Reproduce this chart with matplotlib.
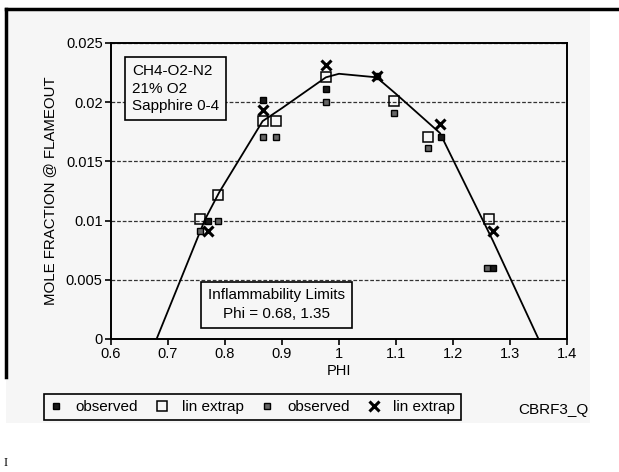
"""Flameout mole fraction vs equivalence ratio, CH4-O2-N2."""

import numpy as np
import matplotlib
matplotlib.use("Agg")
import matplotlib.pyplot as plt
from matplotlib.lines import Line2D
from matplotlib.patches import Rectangle

plt.rcParams["font.family"] = ["Liberation Sans", "DejaVu Sans"]

# data
obs_phi = [0.770, 0.866, 0.977, 1.066, 1.179, 1.270]
obs_x = [0.0100, 0.0202, 0.0211, 0.0222, 0.0171, 0.0060]

lin_phi = [0.757, 0.788, 0.866, 0.889, 0.977, 1.097, 1.157, 1.263]
lin_x = [0.0101, 0.0122, 0.0184, 0.0184, 0.0221, 0.0201, 0.0171, 0.0101]

obs2_phi = [0.757, 0.788, 0.866, 0.889, 0.977, 1.097, 1.157, 1.260]
obs2_x = [0.0091, 0.0100, 0.0171, 0.0171, 0.0200, 0.0191, 0.0161, 0.0060]

lin2_phi = [0.770, 0.866, 0.977, 1.066, 1.177, 1.270]
lin2_x = [0.0091, 0.0193, 0.0231, 0.0222, 0.0182, 0.0091]

fit_phi = [0.68, 0.765, 0.79, 0.866, 0.90, 0.977, 1.0, 1.066, 1.10, 1.177, 1.27, 1.35]
fit_x = [0.0, 0.0101, 0.0124, 0.0184, 0.0195, 0.0221, 0.0224, 0.0221, 0.0207, 0.0174, 0.0083, 0.0]

page = "#f6f6f6"
fig = plt.figure(figsize=(6.19, 4.72), dpi=100)
fig.patch.set_facecolor("white")
fig.add_artist(Rectangle((0.0097, 0.104), 0.944, 0.877, transform=fig.transFigure,
                         fc=page, ec="none", zorder=-10))

ax = fig.add_axes([0.1793, 0.2818, 0.7367, 0.6271])
ax.set_facecolor(page)

ax.plot(fit_phi, fit_x, color="black", lw=1.3, zorder=3)
ax.plot(obs_phi, obs_x, "s", ms=5, color="black", mfc="#1a1a1a", zorder=4, label="observed")
ax.plot(lin_phi, lin_x, "s", ms=7, color="black", mfc="none", mew=1.1, zorder=4, label="lin extrap")
ax.plot(obs2_phi, obs2_x, "s", ms=5, color="black", mfc="#666666", zorder=4, label="observed")
ax.plot(lin2_phi, lin2_x, "x", ms=7, color="black", mew=2.2, zorder=4, label="lin extrap")

ax.set_xlim(0.6, 1.4)
ax.set_ylim(0, 0.025)
ax.set_xticks(np.arange(0.6, 1.41, 0.1))
ax.set_xticklabels(["0.6", "0.7", "0.8", "0.9", "1", "1.1", "1.2", "1.3", "1.4"])
ax.set_yticks([0, 0.005, 0.01, 0.015, 0.02, 0.025])
ax.set_yticklabels(["0", "0.005", "0.01", "0.015", "0.02", "0.025"])
ax.tick_params(labelsize=10.5, direction="out", length=4, width=1.2, pad=2)
ax.yaxis.grid(True, ls=(0, (3, 1.5)), color="#333333", lw=0.9)
for s in ax.spines.values():
    s.set_linewidth(1.4)
ax.set_xlabel("PHI", fontsize=10.5, labelpad=2)
ax.set_ylabel("MOLE FRACTION @ FLAMEOUT", fontsize=10.8, labelpad=6)

ax.text(0.637, 0.0232, "CH4-O2-N2\n21% O2\nSapphire 0-4", fontsize=11, va="top",
        linespacing=1.3,
        bbox=dict(boxstyle="square,pad=0.45", fc=page, ec="black", lw=1.2))
ax.text(0.891, 0.0029, "Inflammability Limits\nPhi = 0.68, 1.35", fontsize=11,
        ha="center", va="center", linespacing=1.4,
        bbox=dict(boxstyle="square,pad=0.45", fc=page, ec="black", lw=1.2))

leg = fig.legend(loc="center", bbox_to_anchor=(36 / 619, 0.106, 433 / 619, 0.064),
                 mode="expand", ncol=4, fontsize=11, frameon=True, fancybox=False,
                 edgecolor="black", handlelength=0.8, handletextpad=0.9,
                 borderpad=0.4, facecolor=page, framealpha=1)
leg.get_frame().set_linewidth(1.2)
fig.text(518 / 619, 0.131, "CBRF3_Q", fontsize=11, va="center")

# scanned page frame
fig.add_artist(Line2D([0.0097, 1.0], [0.981, 0.981], color="black", lw=2.5))
fig.add_artist(Line2D([0.0097, 0.0097], [0.981, 0.201], color="black", lw=2.5))
fig.text(0.006, 0.012, "I", fontsize=9, family="Liberation Serif")

fig.savefig("out.png", dpi=100)
